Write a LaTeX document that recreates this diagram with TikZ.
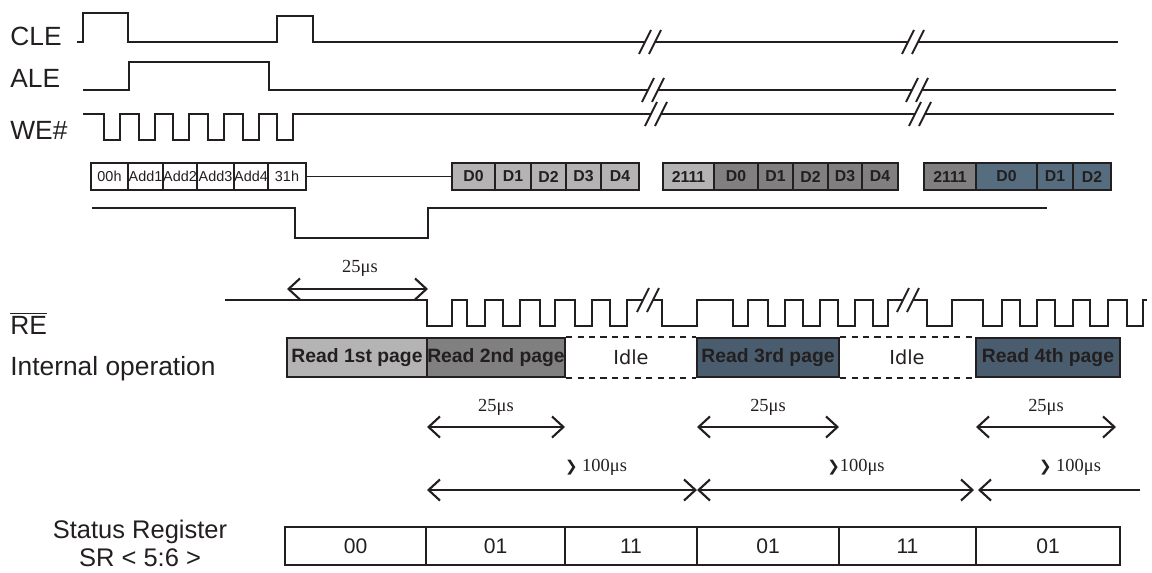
\documentclass[tikz,border=0pt]{standalone}
\usepackage{fontspec}
\setmainfont{Liberation Sans}
\newfontfamily\timesfont{Liberation Serif}
\newfontfamily\tahfont{DejaVu Sans}
\usetikzlibrary{arrows.meta}
\definecolor{ink}{HTML}{231F20}
\definecolor{lgray}{HTML}{B4B4B4}
\definecolor{mgray}{HTML}{808080}
\definecolor{slate}{HTML}{566D80}
\definecolor{slatedk}{HTML}{4A5D6E}
\def\breakmark(#1,#2){\fill[white] ({#1-11},{#2+12}) -- ({#1+1},{#2-12}) -- ({#1+11},{#2-12}) -- ({#1-1},{#2+12}) -- cycle;
	\draw[sig] ({#1-11},{#2+12}) -- ({#1+1},{#2-12}); \draw[sig] ({#1-1},{#2+12}) -- ({#1+11},{#2-12});}
\def\gt{{\tahfont\fontsize{8.5}{9}\selectfont ❯}}
\tikzset{
	sig/.style={ink, line width=1.1pt},
	lbl/.style={anchor=base west, inner sep=0pt, font=\fontsize{15}{15}\selectfont},
	abox/.style={draw=ink, line width=1.1pt, fill=white, minimum height=0.54cm, inner sep=0pt, font=\fontsize{8.2}{9}\selectfont},
	dbox/.style={draw=ink, line width=1.3pt, minimum height=0.54cm, inner sep=0pt, font=\bfseries\fontsize{9}{10}\selectfont},
	pbox/.style={draw=ink, line width=1.3pt, minimum height=0.78cm, inner sep=0pt, font=\bfseries\fontsize{11}{12}\selectfont},
	idle/.style={font=\tahfont\fontsize{11}{12}\selectfont},
	srbox/.style={draw=ink, line width=1.1pt, minimum height=0.76cm, inner sep=0pt, font=\fontsize{12}{13}\selectfont},
	us/.style={font=\timesfont\fontsize{10.5}{11}\selectfont},
	span/.style={ink, line width=1.2pt},
}

\begin{document}
\begin{tikzpicture}[x=0.02cm, y=-0.02cm, color=ink, >={Straight Barb[length=6.5pt,width=12pt]}]
				%%%%% START %%%%%
				\useasboundingbox (0,0) rectangle (1152,572);

				\node[lbl] (cle) at (10,45) {CLE};
				\node[lbl] (ale) at (10,87) {ALE};
				\node[lbl] (we) at (10,139) {WE\#};
				\node[lbl] (re) at (10,334) {$\overline{\mbox{RE}}$};
				\node[lbl] (intop) at (10,375) {Internal operation};
				\node[lbl, anchor=center, align=center, font=\fontsize{14.5}{16}\selectfont] (sr) at (140,543) {Status Register\\SR < 5:6 >};

				% CLE, ALE, WE#
				\draw[sig] (77,42) -- (83,42) -- (83,13) -- (128,13) -- (128,42) -- (277,42) -- (277,16) -- (313,16) -- (313,42) -- (1118,42);
				\breakmark(650,42)
				\breakmark(913,42)

				\draw[sig] (83,90) -- (129,90) -- (129,62) -- (269,62) -- (269,90) -- (1116,90);
				\breakmark(653,90)
				\breakmark(917,90)

				\draw[sig] (83,114) \foreach \x in {104,139,173,208,243,277}{ -- (\x,114) -- (\x,140) -- ({\x+16},140) -- ({\x+16},114)} -- (1114,114);
				\breakmark(656,114)
				\breakmark(920,114)

				% I/O
				\node[abox, minimum width=0.74cm] (c00) at (109.5,176.5) {00h};
				\node[abox, minimum width=0.70cm] (a1) at (145.5,176.5) {Add1};
				\node[abox, minimum width=0.68cm] (a2) at (180,176.5) {Add2};
				\node[abox, minimum width=0.74cm] (a3) at (215.5,176.5) {Add3};
				\node[abox, minimum width=0.68cm] (a4) at (251,176.5) {Add4};
				\node[abox, minimum width=0.76cm] (c31) at (287,176.5) {31h};

				\node[dbox, fill=lgray, minimum width=0.86cm] (p1d0) at (473.5,176.5) {D0};
				\node[dbox, fill=lgray, minimum width=0.72cm] (p1d1) at (513,176.5) {D1};
				\node[dbox, fill=lgray, minimum width=0.70cm] (p1d2) at (548.5,176.5) {D2};
				\node[dbox, fill=lgray, minimum width=0.70cm] (p1d3) at (583.5,176.5) {D3};
				\node[dbox, fill=lgray, minimum width=0.76cm] (p1d4) at (620,176.5) {D4};
				\draw[sig] (c31.east) -- (p1d0.west);

				\node[dbox, fill=lgray, minimum width=1.02cm] (p2sr) at (688.5,176.5) {2111};
				\node[dbox, fill=mgray, minimum width=0.88cm] (p2d0) at (736,176.5) {D0};
				\node[dbox, fill=mgray, minimum width=0.70cm] (p2d1) at (775.5,176.5) {D1};
				\node[dbox, fill=mgray, minimum width=0.70cm] (p2d2) at (810.5,176.5) {D2};
				\node[dbox, fill=mgray, minimum width=0.68cm] (p2d3) at (845,176.5) {D3};
				\node[dbox, fill=mgray, minimum width=0.72cm] (p2d4) at (880,176.5) {D4};

				\node[dbox, fill=mgray, minimum width=1.04cm] (p3sr) at (950,176.5) {2111};
				\node[dbox, fill=slate, minimum width=1.22cm] (p3d0) at (1006.5,176.5) {D0};
				\node[dbox, fill=slate, minimum width=0.72cm] (p3d1) at (1055,176.5) {D1};
				\node[dbox, fill=slate, minimum width=0.76cm] (p3d2) at (1092,176.5) {D2};

				% R/B#
				\draw[sig] (92,208) -- (295,208) -- (295,238) -- (428,238) -- (428,208) -- (1047,208);

				% RE
				\draw[sig] (225,300) \foreach \a/\b in {427/452,467/485,503/520,540/555,575/592,610/627}{ -- (\a,300) -- (\a,326) -- (\b,326) -- (\b,300)}
					\foreach \a/\b in {662/697,733/748,768/785,803/820,838/855,873/888}{ -- (\a,300) -- (\a,326) -- (\b,326) -- (\b,300)}
					\foreach \a/\b in {927/952,983/1002,1020/1037,1055/1073,1090/1108,1127/1143}{ -- (\a,300) -- (\a,326) -- (\b,326) -- (\b,300)} -- (1147,300);
				\breakmark(648,300)
				\breakmark(908,300)

				\draw[span, <->] (287,289) -- (428,289);
				\node[us] (t0) at (360,268) {25μs};

				% internal operation
				\node[pbox, fill=lgray, minimum width=2.80cm] (rd1) at (357,357.5) {Read 1st page};
				\node[pbox, fill=mgray, minimum width=2.76cm] (rd2) at (496,357.5) {Read 2nd page};
				\node[pbox, fill=slatedk, minimum width=2.84cm] (rd3) at (768,357.5) {Read 3rd page};
				\node[pbox, fill=slatedk, minimum width=2.88cm] (rd4) at (1048,357.5) {Read 4th page};
				\draw[sig, dash pattern=on 3.5pt off 3pt] (rd2.north east) -- (rd3.north west);
				\draw[sig, dash pattern=on 3.5pt off 3pt] (rd2.south east) -- (rd3.south west);
				\draw[sig, dash pattern=on 3.5pt off 3pt] (rd3.north east) -- (rd4.north west);
				\draw[sig, dash pattern=on 3.5pt off 3pt] (rd3.south east) -- (rd4.south west);
				\node[idle] (idle1) at (631,357.5) {Idle};
				\node[idle] (idle2) at (907,357.5) {Idle};

				% timing
				\draw[span, <->] (427,427) -- (565,427);
				\draw[span, <->] (697,427) -- (839,427);
				\draw[span, <->] (976,427) -- (1116,427);
				\node[us] (t1) at (496,407) {25μs};
				\node[us] (t2) at (768,407) {25μs};
				\node[us] (t3) at (1046,407) {25μs};

				\draw[span, <->] (427,490) -- (697,490);
				\draw[span, <->] (697,490) -- (974,490);
				\draw[span, <-] (978,490) -- (1140,490);
				\node[us] (m1) at (596,467) {\gt\ 100μs};
				\node[us] (m2) at (856,467) {\gt100μs};
				\node[us] (m3) at (1070,467) {\gt\ 100μs};

				% status register
				\node[srbox, minimum width=2.82cm] (s1) at (355.5,546) {00};
				\node[srbox, minimum width=2.78cm] (s2) at (495.5,546) {01};
				\node[srbox, minimum width=2.64cm] (s3) at (631,546) {11};
				\node[srbox, minimum width=2.84cm] (s4) at (768,546) {01};
				\node[srbox, minimum width=2.74cm] (s5) at (907.5,546) {11};
				\node[srbox, minimum width=2.88cm] (s6) at (1048,546) {01};
				%%%%% END %%%%%
\end{tikzpicture}
\end{document}
